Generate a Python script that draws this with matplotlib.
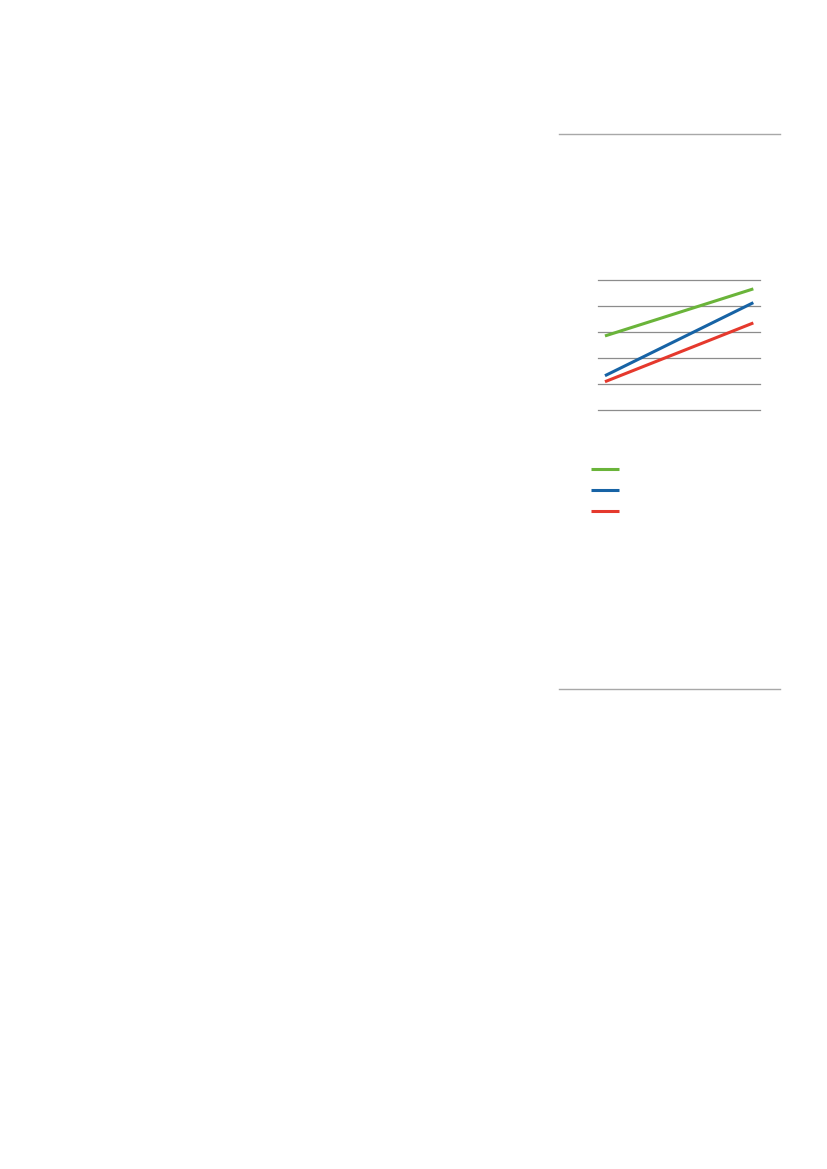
import matplotlib
matplotlib.use("Agg")
import matplotlib.pyplot as plt
from matplotlib.lines import Line2D

# 数据
periods = [0, 1]
series_names = ["Series A", "Series B", "Series C"]
green_vals = [2.86, 4.67]
blue_vals = [1.33, 4.14]
red_vals = [1.10, 3.36]
grid_ticks = [0, 1, 2, 3, 4, 5]

GREEN = "#6ab43a"
BLUE = "#1763a5"
RED = "#e5392d"
GRID = "#8c8c8c"
RULE = "#a8a8a8"

W, H = 827, 1169
fig = plt.figure(figsize=(W / 100, H / 100), dpi=100)


def px_box(x0, y0, x1, y1):
	# 像素框 -> figure 坐标
	return [x0 / W, 1 - y1 / H, (x1 - x0) / W, (y1 - y0) / H]


# 侧栏上下两条分隔线
for y in (134, 689):
	fig.add_artist(Line2D([559 / W, 780 / W], [1 - y / H, 1 - y / H],
						  color=RULE, lw=1.0, transform=fig.transFigure))

ax = fig.add_axes(px_box(598.3, 280.3, 760, 410.3))
ax.plot(periods, green_vals, color=GREEN, lw=2.2, solid_capstyle="butt", zorder=3)
ax.plot(periods, blue_vals, color=BLUE, lw=2.2, solid_capstyle="butt", zorder=3)
ax.plot(periods, red_vals, color=RED, lw=2.2, solid_capstyle="butt", zorder=3)

ax.set_xlim(-0.045, 1.045)
ax.set_ylim(grid_ticks[0], grid_ticks[-1])
for t in grid_ticks:
	ax.axhline(t, color=GRID, lw=0.9, clip_on=False, zorder=1)
ax.set_xticks([])
ax.set_yticks([])
for s in ax.spines.values():
	s.set_visible(False)
ax.patch.set_alpha(0)

handles = [Line2D([], [], color=c, lw=2.2, solid_capstyle="butt") for c in (GREEN, BLUE, RED)]
leg = fig.legend(handles, [" ", " ", " "], loc="upper left",
				 bbox_to_anchor=(590.7 / W, 1 - 465 / H), bbox_transform=fig.transFigure,
				 frameon=False, fontsize=8, handlelength=2.55, handletextpad=0.4,
				 labelspacing=0.98, borderpad=0, borderaxespad=0)

fig.savefig("out.png", dpi=100)
